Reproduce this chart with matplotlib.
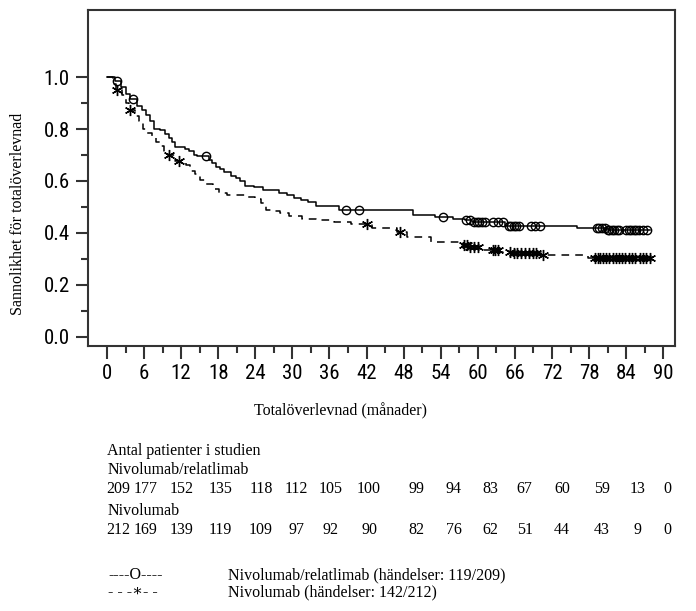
import numpy as np
import matplotlib
matplotlib.use("Agg")
import matplotlib.pyplot as plt
import matplotlib.transforms as mtransforms

# Kaplan-Meier steps (months, survival probability)
combo_t = [0, 1.3, 2.2, 3.0, 3.8, 4.8, 5.6, 6.3, 7.0, 7.6, 8.6, 9.4, 10.0, 10.5, 11.0,
           12.6, 13.3, 14.0, 14.6, 16.5, 17.0, 17.6, 18.3, 19.0, 20.0, 20.8, 21.5, 22.3,
           23.8, 25.3, 27.8, 29.2, 30.2, 31.4, 32.5, 33.8, 37.6, 49.5, 53.0, 56.0, 58.0,
           59.0, 64.4, 76.0, 81.0]
combo_s = [1.0, 0.985, 0.96, 0.935, 0.915, 0.89, 0.875, 0.855, 0.83, 0.80, 0.795, 0.78,
           0.765, 0.75, 0.73, 0.725, 0.715, 0.70, 0.695, 0.68, 0.67, 0.655, 0.645, 0.635,
           0.62, 0.61, 0.60, 0.58, 0.575, 0.565, 0.555, 0.545, 0.535, 0.525, 0.52, 0.505,
           0.49, 0.47, 0.463, 0.455, 0.448, 0.442, 0.425, 0.418, 0.41]
combo_cens = [1.6, 4.2, 16.0, 38.7, 40.8, 54.4, 58.1, 58.7, 59.3, 59.8, 60.2, 60.7, 61.2,
              62.5, 63.2, 64.0, 65.0, 65.4, 65.8, 66.2, 66.6, 68.6, 69.3, 70.1, 79.2, 79.6,
              80.1, 80.6, 81.0, 81.3, 81.7, 82.1, 82.5, 82.9, 84.0, 84.4, 84.8, 85.2, 85.6,
              86.0, 86.7, 87.3]

nivo_t = [0, 1.0, 1.5, 2.4, 3.0, 3.5, 4.5, 5.2, 5.8, 6.5, 7.3, 8.0, 8.8, 9.3, 9.8, 11.0,
          12.8, 13.4, 14.2, 15.0, 16.0, 17.2, 18.2, 19.4, 22.6, 24.0, 25.0, 25.8, 26.6,
          28.0, 29.4, 31.5, 33.8, 36.8, 39.4, 42.8, 47.0, 48.6, 52.5, 57.0, 58.5, 60.2,
          63.6, 65.8, 70.2, 77.8]
nivo_s = [1.0, 0.975, 0.95, 0.93, 0.90, 0.875, 0.85, 0.83, 0.80, 0.785, 0.77, 0.75, 0.735,
          0.715, 0.70, 0.675, 0.66, 0.64, 0.625, 0.605, 0.59, 0.57, 0.555, 0.545, 0.54,
          0.53, 0.515, 0.49, 0.485, 0.475, 0.465, 0.455, 0.45, 0.442, 0.435, 0.42, 0.405,
          0.385, 0.365, 0.355, 0.345, 0.335, 0.328, 0.322, 0.315, 0.302]
nivo_cens = [1.6, 3.7, 10.0, 11.7, 42.0, 47.4, 57.8, 58.3, 58.8, 59.4, 60.0, 62.4, 62.8,
             63.2, 65.2, 65.8, 66.4, 67.0, 67.6, 68.3, 68.9, 69.4, 70.6, 79.0, 79.4, 79.8,
             80.3, 80.8, 81.3, 81.8, 82.3, 82.8, 83.3, 83.8, 84.5, 85.0, 85.5, 86.2, 86.7,
             87.2, 87.8]
last_time = 87.8

# numbers at risk
risk_combo = [209, 177, 152, 135, 118, 112, 105, 100, 99, 94, 83, 67, 60, 59, 13, 0]
risk_nivo = [212, 169, 139, 119, 109, 97, 92, 90, 82, 76, 62, 51, 44, 43, 9, 0]

label_combo = "Nivolumab/relatlimab"
label_nivo = "Nivolumab"
legend_combo = "Nivolumab/relatlimab (händelser: 119/209)"
legend_nivo = "Nivolumab (händelser: 142/212)"

W, H = 696, 611
serif = ["Liberation Serif", "DejaVu Serif"]
narrow = ["Roboto Condensed", "Liberation Sans Narrow", "Liberation Sans"]
FS = 11.5


def fx(px):
    return px / W


def fy(py):
    return 1 - py / H


def step_value(times, surv, x):
    idx = np.searchsorted(times, x, side="right") - 1
    return np.array(surv)[idx]


fig = plt.figure(figsize=(W / 100, H / 100), dpi=100)
ax = fig.add_axes([fx(88), fy(346), fx(675) - fx(88), fy(10) - fy(346)])

# curves
ax.step(combo_t + [last_time], combo_s + [combo_s[-1]], where="post",
        color="black", linewidth=1.1)
ax.step(nivo_t + [last_time], nivo_s + [nivo_s[-1]], where="post",
        color="black", linewidth=1.1, linestyle=(0, (5, 4)))

# censor marks
ax.plot(combo_cens, step_value(combo_t, combo_s, np.array(combo_cens)), linestyle="none",
        marker="o", markersize=6, markerfacecolor="none", markeredgecolor="black",
        markeredgewidth=1.0)
ax.plot(nivo_cens, step_value(nivo_t, nivo_s, np.array(nivo_cens)), linestyle="none",
        marker=(6, 2, 0), markersize=8, markeredgecolor="black", markeredgewidth=1.0)

ax.set_xlim(-3.07, 91.9)
ax.set_ylim(-0.035, 1.258)
ax.set_xticks(np.arange(0, 91, 6))
ax.set_xticks(np.arange(3, 90, 6), minor=True)
ax.set_yticks(np.arange(0, 1.01, 0.2))
ax.set_yticks(np.arange(0.1, 1.0, 0.2), minor=True)
ax.set_yticklabels([f"{v:.1f}" for v in np.arange(0, 1.01, 0.2)])

for lab in ax.get_xticklabels() + ax.get_yticklabels():
    lab.set_family(narrow)
    lab.set_fontsize(15)

ax.tick_params(which="major", length=9, width=1.5, color="#333333", pad=4)
ax.tick_params(which="minor", length=5, width=1.5, color="#333333")
for sp in ax.spines.values():
    sp.set_linewidth(1.5)
    sp.set_color("#333333")

# axis titles
fig.text(fx(18), fy(214), "Sannolikhet för totalöverlevnad", rotation=90,
         ha="center", va="center", family=serif, fontsize=FS)
fig.text(fx(341), fy(411), "Totalöverlevnad (månader)", ha="center", va="center",
         family=serif, fontsize=FS)

# numbers at risk
fig.text(fx(107), fy(451), "Antal patienter i studien", ha="left", va="center",
         family=serif, fontsize=FS)
fig.text(fx(108), fy(470), label_combo, ha="left", va="center", family=serif, fontsize=FS)
fig.text(fx(108), fy(511), label_nivo, ha="left", va="center", family=serif, fontsize=FS)

risk_x = [1.8, 6.3, 12.0, 18.4, 24.9, 30.6, 36.2, 42.4, 50.0, 56.1, 62.1, 67.6, 73.6,
          80.1, 85.8, 90.6]
trans = mtransforms.blended_transform_factory(ax.transData, fig.transFigure)
for x, n1, n2 in zip(risk_x, risk_combo, risk_nivo):
    fig.text(x, fy(489), str(n1), transform=trans, ha="center", va="center",
             family=serif, fontsize=FS)
    fig.text(x, fy(530), str(n2), transform=trans, ha="center", va="center",
             family=serif, fontsize=FS)

# legend
fig.text(fx(108), fy(575), "----O----", ha="left", va="center", family=serif, fontsize=FS)
fig.text(fx(108), fy(592), "- - -\u2217- -", ha="left", va="center", family=serif,
         fontsize=FS)
fig.text(fx(228), fy(575), legend_combo, ha="left", va="center", family=serif, fontsize=FS)
fig.text(fx(228), fy(592), legend_nivo, ha="left", va="center", family=serif, fontsize=FS)

fig.savefig("out.png", dpi=100)
